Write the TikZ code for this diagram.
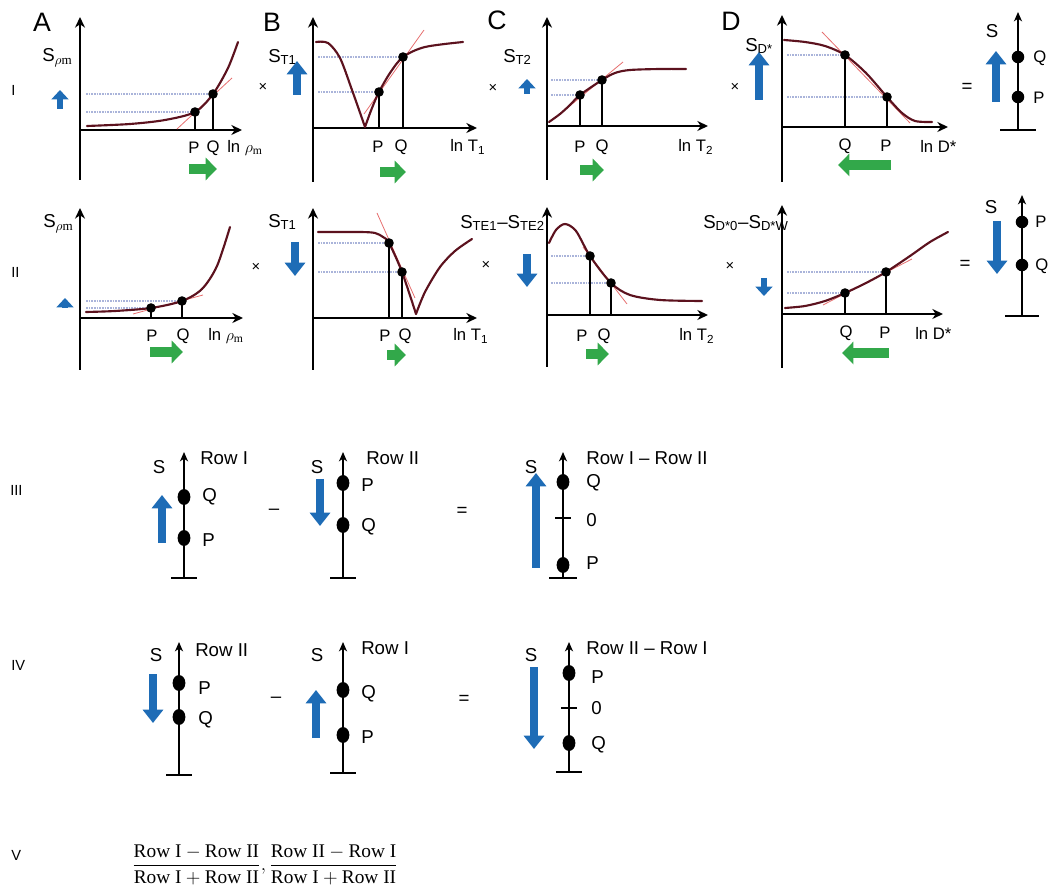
\documentclass[tikz,border=0pt]{standalone}
\usepackage{amsmath}
\usepackage{fontspec}
\setmainfont{Liberation Serif}
\setsansfont{Liberation Sans}
\usetikzlibrary{arrows.meta}

\definecolor{arrowblue}{RGB}{30,108,182}
\definecolor{arrowgreen}{RGB}{50,168,74}
\definecolor{curvered}{RGB}{92,18,30}
\definecolor{tanred}{RGB}{230,110,110}
\definecolor{levelblue}{RGB}{170,180,218}

\tikzset{
  axis/.style={line width=1.9pt, -{Stealth[length=8pt,width=7.5pt]}},
  saxis/.style={line width=1.8pt, -{Stealth[length=7pt,width=6pt,inset=2pt]}},
  bar/.style={line width=1.9pt},
  curve/.style={curvered, line width=1.6pt, line cap=round},
  tangent/.style={tanred, line width=0.6pt},
  level/.style={levelblue, line width=0.8pt, dash pattern=on 1.2pt off 0.8pt},
  drop/.style={line width=1.9pt},
  bluearr/.style={arrowblue, line width=5.5pt, -{Triangle[width=15pt,length=10pt]}},
  tinyblue/.style={arrowblue, line width=4pt, -{Triangle[width=12.5pt,length=7pt]}},
  greenarr/.style={arrowgreen, line width=7.5pt, -{Triangle[width=16.5pt,length=8.5pt]}},
  every node/.style={inner sep=0pt, font=\sffamily},
  lab/.style={font=\sffamily\fontsize{12.5}{14}\selectfont},
  slab/.style={font=\sffamily\fontsize{14}{16}\selectfont},
  pan/.style={font=\sffamily\fontsize{20}{24}\selectfont},
  rown/.style={anchor=west, font=\sffamily\fontsize{11}{13}\selectfont},
  op/.style={font=\sffamily\fontsize{11}{13}\selectfont},
  eqop/.style={font=\sffamily\fontsize{14}{16}\selectfont},
  rowlab/.style={font=\sffamily\fontsize{14}{16}\selectfont},
  frac/.style={font=\rmfamily\fontsize{14.5}{17}\selectfont}
}

\begin{document}
\begin{tikzpicture}[x=0.75pt, y=-0.75pt]
\useasboundingbox (0,0) rectangle (1050,887);

% row I, panel A
\node[pan] (lblA) at (42,22) {A};
\node[rown] (rowI) at (11,90) {I};
\coordinate (oAI) at (80,130);
\coordinate (pAI) at (195,112);
\coordinate (qAI) at (213,94);
\draw[axis] (80,180) -- (80,17);
\draw[axis] (oAI) -- (242,130);
\draw[level] (86,0 |- pAI) -- (pAI);
\draw[level] (86,0 |- qAI) -- (qAI);
\draw[tangent] (177,129) -- (232,78);
\draw[curve] plot[smooth] coordinates {(87,126) (130,124) (165,120) (pAI) (qAI) (228,68) (238,42)};
\draw[drop] (pAI) -- (pAI |- oAI);
\draw[drop] (qAI) -- (qAI |- oAI);
\fill (pAI) circle (3.6pt);
\fill (qAI) circle (3.6pt);
\node[slab, anchor=west] (sAI) at (42,58) {S$_{\rho\mathrm{m}}$};
\draw[tinyblue] (60,109) -- (60,90);
\node[lab] (pAIt) at (194,148) {P};
\node[lab] (qAIt) at (213,148) {Q};
\node[lab, anchor=west] (xAIt) at (227,148) {ln $\rho_{\mathrm{m}}$};
\draw[greenarr] (189,169) -- (217,169);

% row I, panel B
\node[pan] (lblB) at (272,22) {B};
\node[op] (tmsAI) at (263,87) {×};
\coordinate (oBI) at (313,128);
\coordinate (pBI) at (379,92);
\coordinate (qBI) at (403,57);
\draw[axis] (313,182) -- (313,17);
\draw[axis] (oBI) -- (477,128);
\draw[level] (318,0 |- pBI) -- (pBI);
\draw[level] (318,0 |- qBI) -- (qBI);
\draw[tangent] (364,114) -- (424,30);
\draw[curve] plot[smooth] coordinates {(316,42) (328,43) (340,58) (352,90) (365,127)};
\draw[curve] plot[smooth] coordinates {(365,127) (372,108) (pBI) (390,73) (qBI) (425,47) (463,42)};
\draw[drop] (pBI) -- (pBI |- oBI);
\draw[drop] (qBI) -- (qBI |- oBI);
\fill (pBI) circle (3.6pt);
\fill (qBI) circle (3.6pt);
\node[slab, anchor=west] (sBI) at (268,57) {S$_{\text{T1}}$};
\draw[bluearr] (297,95) -- (297,61);
\node[lab] (pBIt) at (378,147) {P};
\node[lab] (qBIt) at (401,147) {Q};
\node[lab, anchor=west] (xBIt) at (450,147) {ln T$_{\text{1}}$};
\draw[greenarr] (380,172) -- (406,172);

% row I, panel C
\node[pan] (lblC) at (497,20) {C};
\node[op] (tmsBI) at (493,88) {×};
\coordinate (oCI) at (547,126);
\coordinate (pCI) at (580,95);
\coordinate (qCI) at (602,80);
\draw[axis] (547,180) -- (547,17);
\draw[axis] (oCI) -- (708,126);
\draw[level] (551,0 |- pCI) -- (pCI);
\draw[level] (551,0 |- qCI) -- (qCI);
\draw[tangent] (560,114) -- (623,62);
\draw[curve] plot[smooth] coordinates {(549,122) (560,114) (570,105) (pCI) (qCI) (615,73) (630,70) (660,69) (686,69)};
\draw[drop] (pCI) -- (pCI |- oCI);
\draw[drop] (qCI) -- (qCI |- oCI);
\fill (pCI) circle (3.6pt);
\fill (qCI) circle (3.6pt);
\node[slab, anchor=west] (sCI) at (503,57) {S$_{\text{T2}}$};
\draw[tinyblue] (527,94) -- (527,79);
\node[lab] (pCIt) at (580,147) {P};
\node[lab] (qCIt) at (602,147) {Q};
\node[lab, anchor=west] (xCIt) at (678,147) {ln T$_{\text{2}}$};
\draw[greenarr] (580,170) -- (604,170);

% row I, panel D
\node[pan] (lblD) at (731,21) {D};
\node[op] (tmsCI) at (735,87) {×};
\coordinate (oDI) at (782,127);
\coordinate (qDI) at (845,55);
\coordinate (pDI) at (887,97);
\draw[axis] (782,182) -- (782,15);
\draw[axis] (oDI) -- (948,127);
\draw[level] (787,0 |- qDI) -- (qDI);
\draw[level] (787,0 |- pDI) -- (pDI);
\draw[tangent] (822,32) -- (910,123);
\draw[curve] plot[smooth] coordinates {(784,40) (805,42) (825,46) (qDI) (866,73) (pDI) (902,113) (915,121) (932,122)};
\draw[drop] (qDI) -- (qDI |- oDI);
\draw[drop] (pDI) -- (pDI |- oDI);
\fill (qDI) circle (3.6pt);
\fill (pDI) circle (3.6pt);
\node[slab, anchor=west] (sDI) at (745,46) {S$_{\text{D*}}$};
\draw[bluearr] (759,100) -- (759,52);
\node[lab] (qDIt) at (845,146) {Q};
\node[lab] (pDIt) at (886,146) {P};
\node[lab, anchor=west] (xDIt) at (920,146) {ln D*};
\draw[greenarr] (891,165) -- (838,165);

% row I, result
\node[eqop] (eqI) at (967,88) {=};
\node[slab] (sRI) at (992,31) {S};
\coordinate (bRI) at (1018,130);
\draw[saxis] (bRI) -- (1018,12);
\draw[bar] (1000,130) -- (1036,130);
\fill (1018,57) circle (4.7pt);
\fill (1018,97) circle (4.7pt);
\node[lab, anchor=west] (qRIt) at (1033,58) {Q};
\node[lab, anchor=west] (pRIt) at (1033,98) {P};
\draw[bluearr] (996,102) -- (996,51);

% row II, panel A
\node[rown] (rowII) at (11,272) {II};
\coordinate (oAII) at (80,318);
\coordinate (pAII) at (151,308);
\coordinate (qAII) at (182,301);
\draw[axis] (80,370) -- (80,208);
\draw[axis] (oAII) -- (243,318);
\draw[level] (86,0 |- pAII) -- (pAII);
\draw[level] (86,0 |- qAII) -- (qAII);
\draw[tangent] (133,314) -- (203,295);
\draw[curve] plot[smooth] coordinates {(86,312) (115,311) (pAII) (qAII) (202,289) (217,266) (230,227)};
\draw[drop] (pAII) -- (pAII |- oAII);
\draw[drop] (qAII) -- (qAII |- oAII);
\fill (pAII) circle (3.6pt);
\fill (qAII) circle (3.6pt);
\node[slab, anchor=west] (sAII) at (43,224) {S$_{\rho\mathrm{m}}$};
\draw[tinyblue] (65,308) -- (65,298);
\node[lab] (pAIIt) at (152,336) {P};
\node[lab] (qAIIt) at (183,336) {Q};
\node[lab, anchor=west] (xAIIt) at (208,336) {ln $\rho_{\mathrm{m}}$};
\draw[greenarr] (150,352) -- (183,352);

% row II, panel B
\node[op] (tmsAII) at (256,267) {×};
\coordinate (oBII) at (313,318);
\coordinate (pBII) at (389,243);
\coordinate (qBII) at (402,272);
\draw[axis] (313,370) -- (313,208);
\draw[axis] (oBII) -- (477,318);
\draw[level] (318,0 |- pBII) -- (pBII);
\draw[level] (318,0 |- qBII) -- (qBII);
\draw[tangent] (377,213) -- (415,298);
\draw[curve] plot[smooth] coordinates {(318,232) (360,232) (375,233) (383,237) (pBII) (qBII) (416,314)};
\draw[curve] plot[smooth] coordinates {(416,314) (425,292) (440,267) (455,251) (472,239)};
\draw[drop] (pBII) -- (pBII |- oBII);
\draw[drop] (qBII) -- (qBII |- oBII);
\fill (pBII) circle (3.6pt);
\fill (qBII) circle (3.6pt);
\node[slab, anchor=west] (sBII) at (268,222) {S$_{\text{T1}}$};
\draw[bluearr] (295,242) -- (295,276);
\node[lab] (pBIIt) at (385,336) {P};
\node[lab] (qBIIt) at (405,336) {Q};
\node[lab, anchor=west] (xBIIt) at (453,336) {ln T$_{\text{1}}$};
\draw[greenarr] (387,355) -- (406,355);

% row II, panel C
\node[op] (tmsBII) at (486,265) {×};
\coordinate (oCII) at (547,315);
\coordinate (pCII) at (590,256);
\coordinate (qCII) at (611,283);
\draw[axis] (547,367) -- (547,207);
\draw[axis] (oCII) -- (708,315);
\draw[level] (551,0 |- pCII) -- (pCII);
\draw[level] (551,0 |- qCII) -- (qCII);
\draw[tangent] (583,247) -- (627,304);
\draw[curve] plot[smooth] coordinates {(549,243) (556,230) (565,224) (576,231) (pCII) (qCII) (630,295) (660,300) (702,301)};
\draw[drop] (pCII) -- (pCII |- oCII);
\draw[drop] (qCII) -- (qCII |- oCII);
\fill (pCII) circle (3.6pt);
\fill (qCII) circle (3.6pt);
\node[slab, anchor=west] (sCII) at (460,223) {S$_{\text{TE1}}$–S$_{\text{TE2}}$};
\draw[bluearr] (527,254) -- (527,287);
\node[lab] (pCIIt) at (582,336) {P};
\node[lab] (qCIIt) at (604,336) {Q};
\node[lab, anchor=west] (xCIIt) at (679,336) {ln T$_{\text{2}}$};
\draw[greenarr] (586,354) -- (609,354);

% row II, panel D
\node[op] (tmsCII) at (730,266) {×};
\coordinate (oDII) at (782,314);
\coordinate (qDII) at (845,293);
\coordinate (pDII) at (886,272);
\draw[axis] (782,368) -- (782,205);
\draw[axis] (oDII) -- (943,314);
\draw[level] (787,0 |- qDII) -- (qDII);
\draw[level] (787,0 |- pDII) -- (pDII);
\draw[tangent] (823,305) -- (912,259);
\draw[curve] plot[smooth] coordinates {(785,308) (805,306) (825,301) (qDII) (866,283) (pDII) (910,256) (930,242) (948,232)};
\draw[drop] (qDII) -- (qDII |- oDII);
\draw[drop] (pDII) -- (pDII |- oDII);
\fill (qDII) circle (3.6pt);
\fill (pDII) circle (3.6pt);
\node[slab, anchor=west] (sDII) at (703,223) {S$_{\text{D*0}}$–S$_{\text{D*W}}$};
\draw[tinyblue] (764,278) -- (764,296);
\node[lab] (qDIIt) at (846,333) {Q};
\node[lab] (pDIIt) at (885,333) {P};
\node[lab, anchor=west] (xDIIt) at (915,333) {ln D*};
\draw[greenarr] (889,353) -- (842,353);

% row II, result
\node[eqop] (eqII) at (965,265) {=};
\node[slab] (sRII) at (991,207) {S};
\coordinate (bRII) at (1022,316);
\draw[saxis] (bRII) -- (1022,195);
\draw[bar] (1005,316) -- (1039,316);
\fill (1022,222) circle (4.7pt);
\fill (1022,265) circle (4.7pt);
\node[lab, anchor=west] (pRIIt) at (1035,222) {P};
\node[lab, anchor=west] (qRIIt) at (1035,266) {Q};
\draw[bluearr] (997,221) -- (997,274);

% row III
\node[rown] (rowIII) at (10,490) {III};
\coordinate (bIIIa) at (184,578);
\draw[saxis] (bIIIa) -- (184,452);
\draw[bar] (171,578) -- (197,578);
\fill (184,497) ellipse (4.8pt and 6pt);
\fill (184,538) ellipse (4.8pt and 6pt);
\node[rowlab] (sIIIa) at (159,467) {S};
\node[rowlab, anchor=west] (hIIIa) at (200,458) {Row I};
\node[rowlab, anchor=west] (qIIIa) at (202,497) {Q};
\node[rowlab, anchor=west] (pIIIa) at (202,540) {P};
\draw[bluearr] (162,543) -- (162,495);
\node[eqop] (mIII) at (274,512) {–};
\coordinate (bIIIb) at (343,578);
\draw[saxis] (bIIIb) -- (343,452);
\draw[bar] (330,578) -- (356,578);
\fill (343,483) ellipse (4.8pt and 6pt);
\fill (343,525) ellipse (4.8pt and 6pt);
\node[rowlab] (sIIIb) at (317,467) {S};
\node[rowlab, anchor=west] (hIIIb) at (366,458) {Row II};
\node[rowlab, anchor=west] (pIIIb) at (361,485) {P};
\node[rowlab, anchor=west] (qIIIb) at (361,527) {Q};
\draw[bluearr] (320,479) -- (320,526);
\node[eqop] (eqIII) at (462,512) {=};
\coordinate (bIIIc) at (563,578);
\draw[saxis] (bIIIc) -- (563,452);
\draw[bar] (549,578) -- (577,578);
\draw[bar] (555,518) -- (571,518);
\fill (563,482) ellipse (4.8pt and 6pt);
\fill (563,565) ellipse (4.8pt and 6pt);
\node[rowlab] (sIIIc) at (531,467) {S};
\node[rowlab, anchor=west] (hIIIc) at (586,458) {Row I – Row II};
\node[rowlab, anchor=west] (qIIIc) at (586,483) {Q};
\node[rowlab, anchor=west] (zIIIc) at (586,520) {0};
\node[rowlab, anchor=west] (pIIIc) at (586,563) {P};
\draw[bluearr] (536,568) -- (536,473);

% row IV
\node[rown] (rowIV) at (11,665) {IV};
\coordinate (bIVa) at (179,775);
\draw[saxis] (bIVa) -- (179,642);
\draw[bar] (166,775) -- (192,775);
\fill (179,683) ellipse (4.8pt and 6pt);
\fill (179,717) ellipse (4.8pt and 6pt);
\node[rowlab] (sIVa) at (156,655) {S};
\node[rowlab, anchor=west] (hIVa) at (195,650) {Row II};
\node[rowlab, anchor=west] (pIVa) at (198,688) {P};
\node[rowlab, anchor=west] (qIVa) at (198,720) {Q};
\draw[bluearr] (153,674) -- (153,723);
\node[eqop] (mIV) at (276,700) {–};
\coordinate (bIVb) at (343,773);
\draw[saxis] (bIVb) -- (343,642);
\draw[bar] (330,773) -- (356,773);
\fill (343,690) ellipse (4.8pt and 6pt);
\fill (343,735) ellipse (4.8pt and 6pt);
\node[rowlab] (sIVb) at (317,655) {S};
\node[rowlab, anchor=west] (hIVb) at (361,648) {Row I};
\node[rowlab, anchor=west] (qIVb) at (361,694) {Q};
\node[rowlab, anchor=west] (pIVb) at (361,737) {P};
\draw[bluearr] (316,738) -- (316,690);
\node[eqop] (eqIV) at (464,700) {=};
\coordinate (bIVc) at (569,772);
\draw[saxis] (bIVc) -- (569,642);
\draw[bar] (556,772) -- (582,772);
\draw[bar] (561,708) -- (577,708);
\fill (569,673) ellipse (4.8pt and 6pt);
\fill (569,743) ellipse (4.8pt and 6pt);
\node[rowlab] (sIVc) at (531,655) {S};
\node[rowlab, anchor=west] (hIVc) at (586,648) {Row II – Row I};
\node[rowlab, anchor=west] (pIVc) at (591,677) {P};
\node[rowlab, anchor=west] (zIVc) at (591,708) {0};
\node[rowlab, anchor=west] (qIVc) at (591,745) {Q};
\draw[bluearr] (534,667) -- (534,749);

% row V
\node[rown] (rowV) at (11,855) {V};
\node[frac] (ratio) at (265,865) {$\dfrac{\text{Row I}-\text{Row II}}{\text{Row I}+\text{Row II}},\dfrac{\text{Row II}-\text{Row I}}{\text{Row I}+\text{Row II}}$};
\end{tikzpicture}
\end{document}
